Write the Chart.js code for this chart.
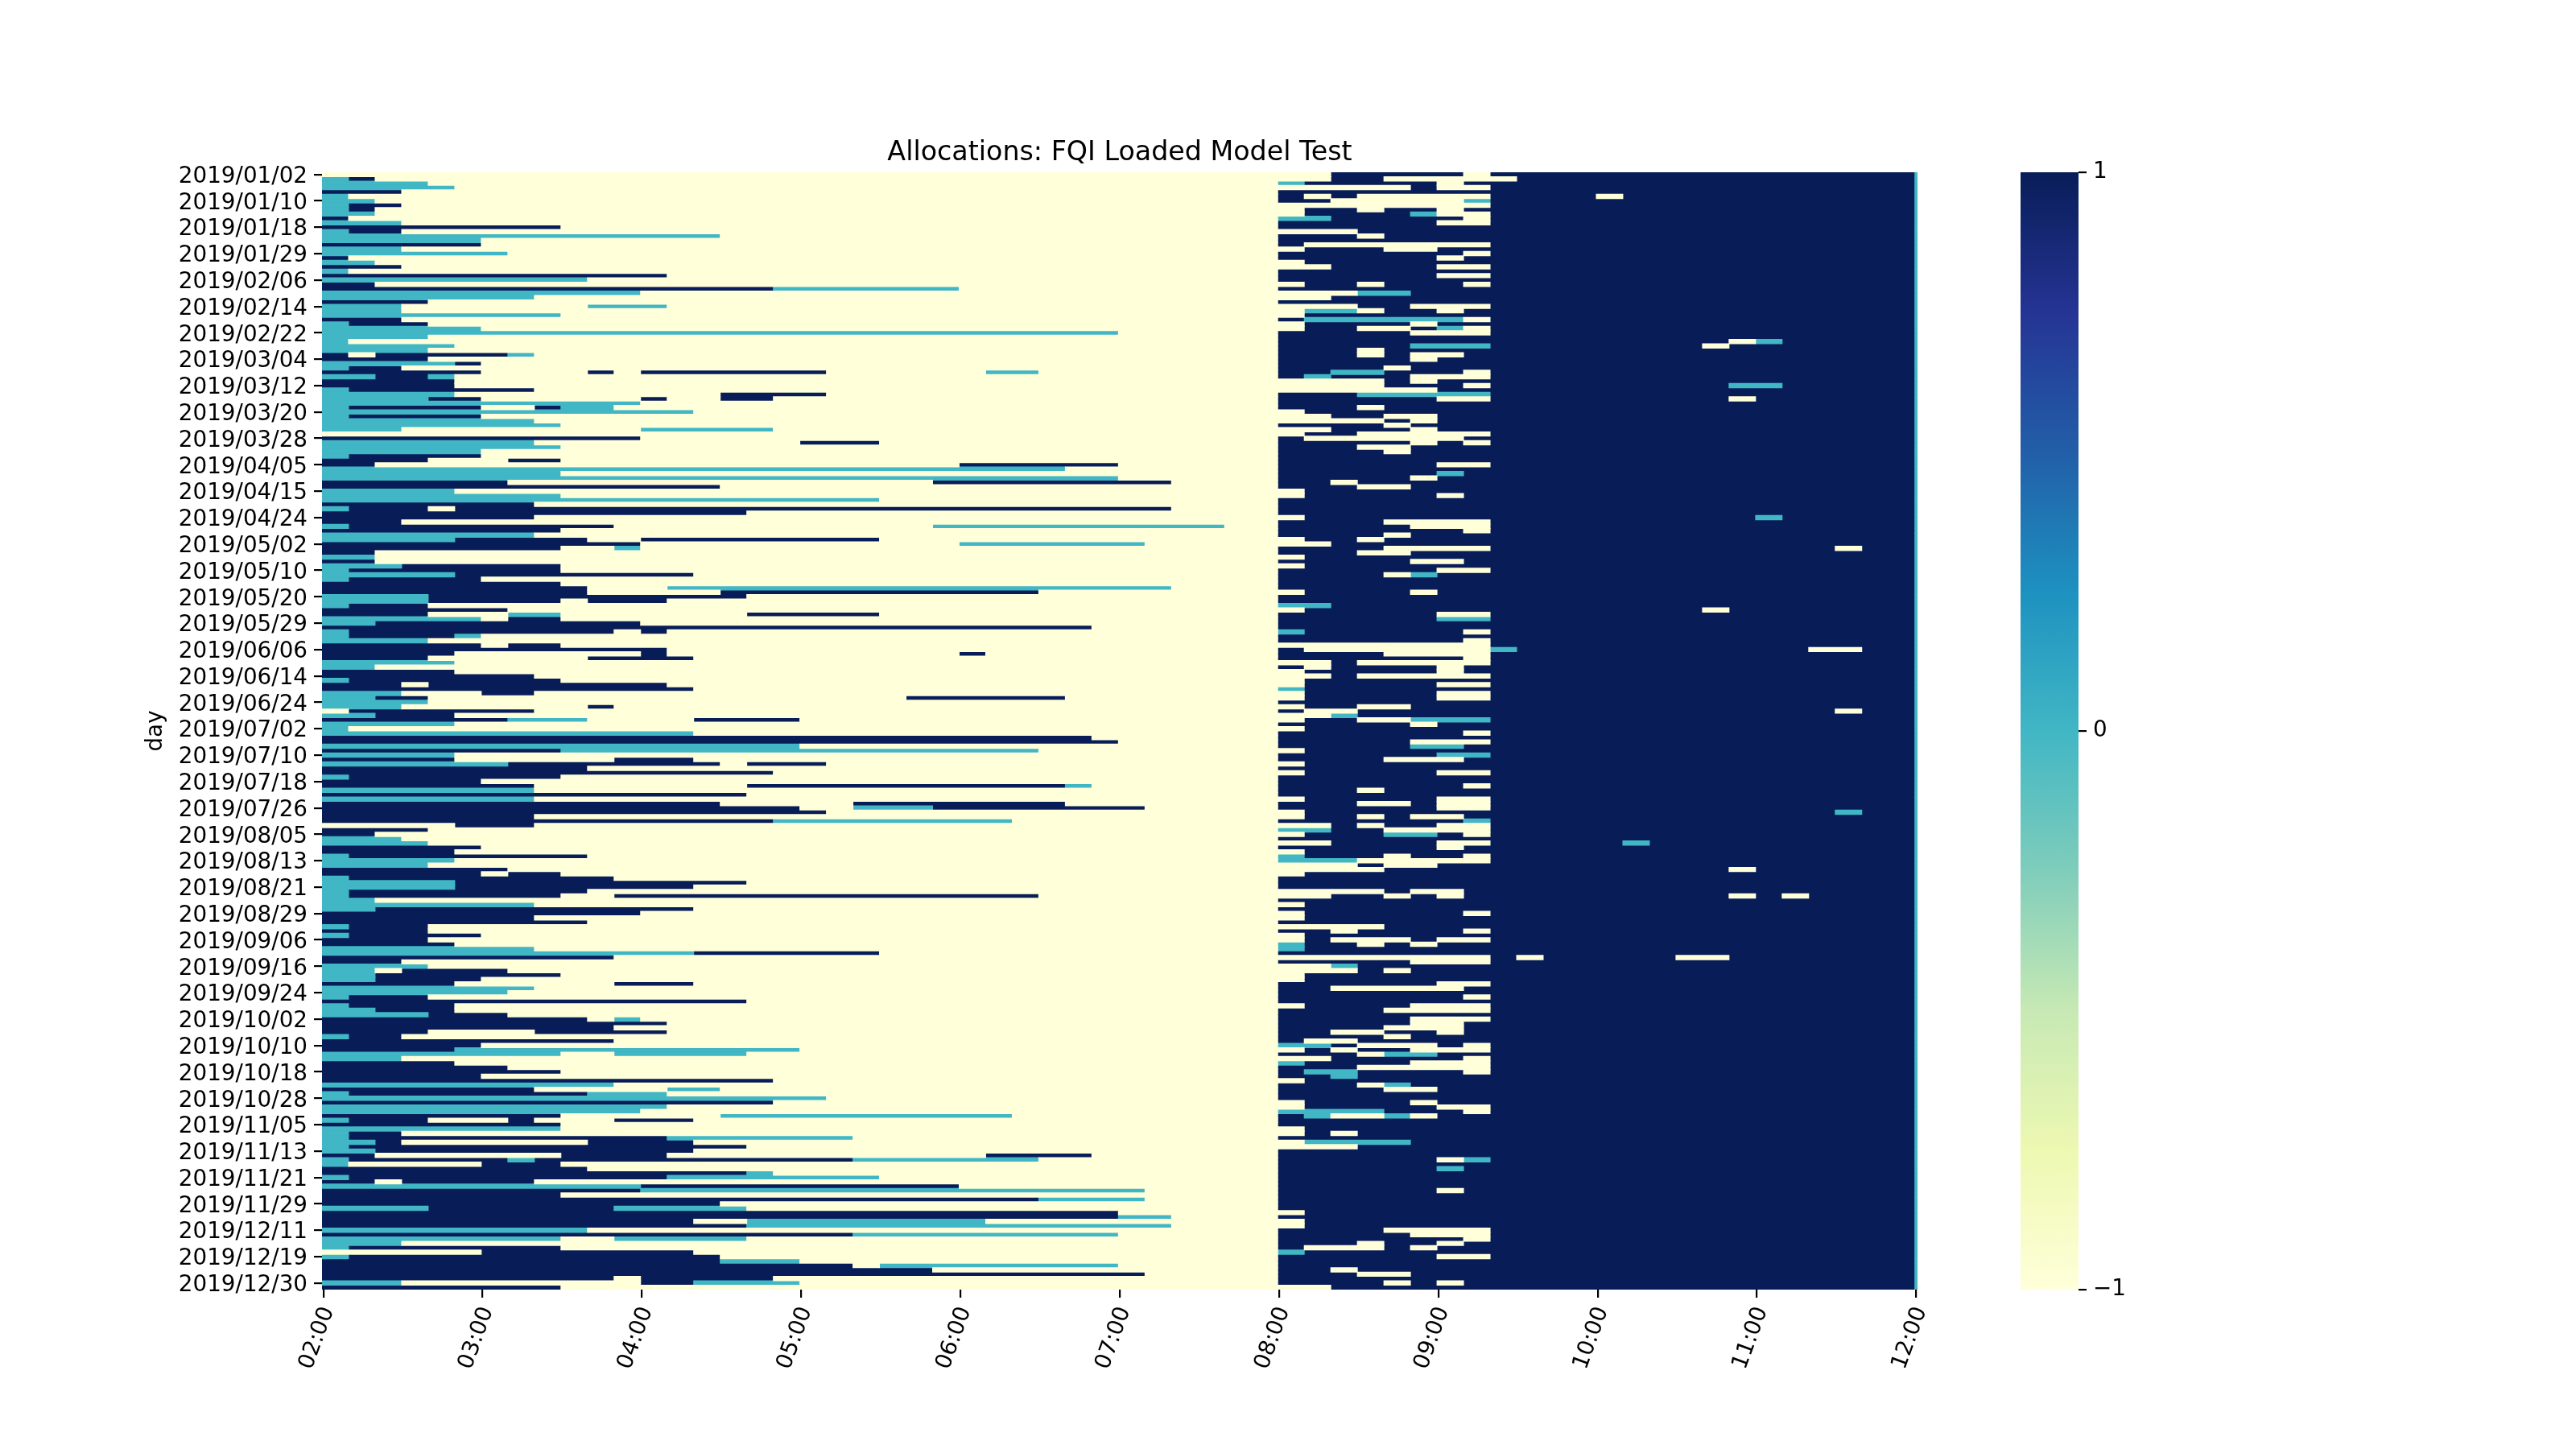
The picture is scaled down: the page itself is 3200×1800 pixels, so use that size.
<!DOCTYPE html>
<html>
<head>
<meta charset="utf-8">
<title>Allocations: FQI Loaded Model Test</title>
<script src="https://cdn.jsdelivr.net/npm/chart.js@4.4.1/dist/chart.umd.min.js"></script>
<style>
  html, body { margin: 0; padding: 0; background: #fff; }
  #page { position: relative; width: 3200px; height: 1800px; overflow: hidden; }
  #heatBox { position: absolute; left: 0; top: 0; width: 2400px; height: 1800px; }
  #barBox { position: absolute; left: 2440px; top: 0; width: 400px; height: 1800px; }
</style>
</head>
<body>
<div id="page">
  <div id="heatBox"><canvas id="heatmap"></canvas></div>
  <div id="barBox"><canvas id="colorbar"></canvas></div>
</div>
<script>
// Tick labels
const timeTicks = ['02:00', '03:00', '04:00', '05:00', '06:00', '07:00', '08:00', '09:00', '10:00', '11:00', '12:00'];
const dayTicks = [
  '2019/01/02', '2019/01/10', '2019/01/18', '2019/01/29', '2019/02/06', '2019/02/14', '2019/02/22',
  '2019/03/04', '2019/03/12', '2019/03/20', '2019/03/28', '2019/04/05', '2019/04/15', '2019/04/24',
  '2019/05/02', '2019/05/10', '2019/05/20', '2019/05/29', '2019/06/06', '2019/06/14', '2019/06/24',
  '2019/07/02', '2019/07/10', '2019/07/18', '2019/07/26', '2019/08/05', '2019/08/13', '2019/08/21',
  '2019/08/29', '2019/09/06', '2019/09/16', '2019/09/24', '2019/10/02', '2019/10/10', '2019/10/18',
  '2019/10/28', '2019/11/05', '2019/11/13', '2019/11/21', '2019/11/29', '2019/12/11', '2019/12/19',
  '2019/12/30'
];
const dayTickStep = 6;
const colorbarTicks = [-1, 0, 1];

// YlGnBu colours
const ylGnBu = ['#ffffd9', '#edf8b1', '#c7e9b4', '#7fcdbb', '#41b6c4', '#1d91c0', '#225ea8', '#253494', '#081d58'];
const cellColours = { '-1': '#ffffd9', '0': '#41b6c4', '1': '#081d58' };

// 02:00 - 07:50, 10 minute slots 0..35 (t = 0 flat, n = 1 long, rest -1)
const earlyBlocks = [
  '', 't0 n1', 't0-3', 't0-4', 'n0-2', 't0',                                   // 01/02
  't0-1', 't0 n1-2', 't0 n1', 't0-1', 'n0', 't0-2',                            // 01/10
  'n0-8', 't0 n1-2', 't0-14', 't0-5', 'n0-5', 't0-2',                          // 01/18
  't0-6', 'n0', 't0-1', 'n0-2', 't0', 'n0-12',                                 // 01/29
  't0-9', 'n0-1', 'n0-16 t17-23', 't0-11', 't0-7', 'n0-3',                     // 02/06
  't0-2 t10-12', 't0-2', 't0-8', 'n0-2', 't0 n1-3', 't0-5',                    // 02/14
  't0-29', 't0-3', 't0', 't0-4', 't0-3', 'n0 n2-6 t7',                         // 02/22
  'n0-3', 't0-4 n5', 't0 n1-2', 'n0-5 n10 n12-18 t25-26', 't0-1 n2-3 t4', 'n0-4', // 03/04
  'n0-4', 't0 n1-7', 't0-4 n15-18', 't0-3 n4-5 n12 n15-16', 't0-11', 't0 n1-5 n8 t9-10', // 03/12
  't0-13', 't0 n1-5', 't0-7', 't0-8', 't0-2 t12-16', '',                      // 03/20
  'n0-11', 't0-7 n18-20', 't0-8', 't0-5', 't0 n1-5', 'n0-3 n7-8',              // 03/28
  'n0-1 n24-29', 't0-27', 't0-8', 't0-29', 'n0-6 n23-31', 'n0-14',             // 04/05
  't0-4', 't0-8', 't0-20', 'n0-7', 't0 n1-3 n5-31', 'n0-15',                   // 04/15
  'n0-7', 'n0-2', 't0 n1-10 t23-33', 'n0-8', 't0-7', 't0-4 n5-9 n12-20',       // 04/24
  'n0-11 t24-30', 'n0-8 t11', 'n0-1', 't0-1', 'n0-1', 't0-2 n3-8',             // 05/02
  't0 n1-8', 't0-4 n5-13', 't0 n1-5', 'n0-8', 'n0-9 t13-31', 'n0-9 n15-26',    // 05/10
  't0-3 n4-15', 't0-3 n4-8 n10-12', 't0 n1-3', 'n0-6', 'n0-3 t7-8 n16-20', 't0-5 n7-8', // 05/20
  't0-1 n2-11', 'n0-28', 't0 n1-10 n12', 't0 n1-4 t5', 't0-3', 'n0-5 n7-8',    // 05/29
  'n0-12', 'n0-4 n12 n24', 'n0-3 n10-13', 't0-4', 't0-1', 'n0-4',              // 06/06
  'n0-7', 't0 n1-8', 'n0-2 n4-12', 'n0-13', 't0-2 n6-7', 't0-1 n2-3 n22-27',   // 06/14
  't0-3', 't0-2 n10', 'n1-7', 't0-1 n2-4', 'n0-6 t7-9 n14-17', 't0-4',         // 06/24
  't0', 't0-13', 'n0-28', 'n0-29', 't0-17', 'n0-8 t9-26',                      // 07/02
  't0-4', 'n0-4 n11-13', 't0-6 n7-14 n16-18', 'n0-9', 'n0-16', 't0 n1-8',      // 07/10
  'n0-5', 'n0-7 n16-27 t28', 't0-7', 'n0-15', 't0-7', 'n0-14 n20-27',          // 07/18
  'n0-17 t20-22 n23-30', 'n0-18', 'n0-7', 'n0-16 t17-25', 'n5-7', 'n0-3',      // 07/26
  'n0-1', 't0-2', 't0-3', 'n0-5', 'n0-4', 't0 n1-9',                           // 08/05
  't0-4', 't0-3', 'n0-6', 'n0-5 n7-8', 't0 n1-10', 't0-4 n5-15',               // 08/13
  't0-4 n5-13', 't0 n1-9', 't0 n1-8 n11-26', 't0-1', 't0-7', 't0-1 n2-13',     // 08/21
  'n0-11', 'n0-7', 'n0-9', 't0 n1-3', 'n0-3', 't0 n1-5',                       // 08/29
  'n0-3', 'n0-4', 't0-7', 't0-13 n14-20', 'n0-10', 'n0-2',                     // 09/06
  't0-3', 't0-1 n3-6', 't0-1 n2-8', 't0-1 n2-5', 'n0-4 n11-13', 't0-7',        // 09/16
  't0-6', 't0 n1-3', 'n0-15', 't0 n1-4', 't0-1 n2-4', 't0-3 n4-6',             // 09/24
  'n0-9 t11', 'n0-12', 'n0-10', 'n0-3 n8-12', 't0 n1-2', 'n0-10',              // 10/02
  'n0-5', 'n0-4 t5-17', 't0-8 t11-15', 't0-2', 'n0-4', 'n0-6',                 // 10/10
  'n0-8', 'n0-5', 'n0-16', 't0-10', 'n0-7 t13-14', 't0 n1-9 t10-12',           // 10/18
  't0-18', 'n0-16', 't0-12', 't0-11', 'n0-8 t15-25', 't0 n1-3 n7 n11-13',      // 10/28
  'n0-8', 't0-8', 't0 n1-2', 't0 n1-12 t13-19', 't0-1 n2 n10-13', 't0 n1-15',  // 11/05
  't0-1 n2-13', 'n0-1 n9-12 n25-28', 't0 n1-6 t7 n8-19 t20-26', 't0 n6-8', 'n0-9', 'n0-15 t16', // 11/13
  't0 n1-12 t13-20', 'n0-1 n3-7', 't0-11 n12-23', 'n0-11 t12-30', 'n0-8', 'n0-26 t27-30', // 11/21
  'n0-14', 't0-3 n4-10 t11-15', 'n0-29', 'n0-29 t30-31', 'n0-13 t16-24', 'n0-15 t16-31', // 11/29
  't0-9', 'n0-19 t20-29', 't0-8 t11-15', 't0-2', 't0 n1-8', 'n6-13',           // 12/11
  't0 n1-14', 'n0-14 t15-17', 'n0-19 t21-29', 'n0-22', 'n0-30', 'n0-10 n12-16', // 12/19
  't0-2 n12-13 t14-17', 'n0-8'                                                 // 12/30
];

// 08:00 - 09:10, slots 36..43 one character each
const openBlocks = [
  '..nnnnn.', '..nn....', 'tnnnnn.n', '.....n..', 'nnnnnnnn', 'n.n.....',
  'nn.....t', '........', '.nn.nn.n', '.nnnnt..', 'ttnnnnn.', 'nnnnnn..',
  'nnnnnnnn', '...nnnnn', 'nnn.nnnn', 'nnnnnnnn', 'n.......', '.nnn..nn',
  'nnnnnnn.', 'nnnnnn.n', '.nnnnnnn', '..nnnn..', 'nnnnnnnn', 'nnnnnn..',
  'nnnnnnnn', '.nn.nnn.', 'nnnnnnnn', '...ttnnn', '..nnnnnn', 'nnnnnnnn',
  '...nn...', '.tt.nn.n', '.nnnnnnn', 'ntttttt.', '.nnnn.nn', '.nn..nt.',
  'nnnnn...', 'nnnnnnnn', 'nnnnnnnn', 'nnnnnttt', 'nnn.nnnn', 'nnn.n..n',
  'nnnnn.nn', 'nnnnnnnn', 'nnnn.nnn', 'nnttnnn.', 'ntnnn...', '....n.nn',
  '....nnn.', '......nn', 'nnnttttt', 'nnnnnn..', 'nnnnnnnn', 'nnn.nnnn',
  '.nnnnnnn', '..nn..nn', '....n.nn', 'nnnn.nnn', '..nnn.nn', '.nn.....',
  'n......n', 'nnnnn.n.', 'nnn..nnn', 'nnnn.nnn', 'nnnnnnnn', 'nnnnnnnn',
  'nnnnnn..', 'nnnnnnnn', 'nnnnnntn', 'nnnnn.nn', 'nn.nnnnn', 'nnn..nnn',
  '.nnnnnnn', '.nnnnn.n', 'nnnnnnnn', 'nnnnnnnn', 'nnnnnnnn', 'nnnnnnnn',
  '.nnnnnnn', 'nnnn....', 'nnnnn...', 'nnnnnnn.', 'nnnn.nnn', '.nn.nnnn',
  '..nnnnnn', 'nnnn....', 'nnn..nnn', '.nnnnnnn', 'nnnnn..n', '.nnnnnnn',
  'nnnnnn..', 'nnnn.tnn', 'nnnnnnnn', 'nnnnnnnn', 'nnnnnnnn', '.nnnn.nn',
  'nnnnnnnn', 'nnnnnnnn', 'ttnnnnnn', '.nnnnnnn', 'nnnnnn..', 'nnnnnntt',
  'nnnnnnnn', 'nnnnnnnn', 'tnnnnnn.', 'nnnnnnnn', 'nnnnnnn.', '........',
  'n.......', 'nnnn....', 'nnnnnnn.', '..n.....', 'n.nnnn.n', '.nnnnn.n',
  '..n.....', '.nnnnnnn', '.nnnnn..', 'tnnnnnnn', '.nnnnn..', '.nnnnn..',
  'nnnnnnnn', '.nn..nnn', 'n..nnnnn', '..tnnnnn', '.nn..ttt', 'nnnnn.nn',
  '.nnnnnnn', 'nnnnnnn.', 'nnnnnnnn', 'nnnnn...', 'nnnnnttn', '.nnnnnnn',
  'nnnnnntt', 'nnnn...n', '.nnnnnnn', 'nnnnnnnn', '.nnnnn..', 'nnnnnnnn',
  'nnnnnnnn', 'nnnnnnn.', 'nnn.nnnn', 'nnnnnnnn', '.nnnnn..', 'nnn..n..',
  'nnnnnn..', '.nnnnnnn', '.nn.n..n', 'nnnnnnnt', '..n.nn..', 'ttnn....',
  '.nnnttn.', 'nnnnnnnn', '..nnnn..', 'nnnnnn.n', '.nnnnnnn', 'tnnn.nn.',
  'ttt.....', '...n..nn', '....nnnn', '.nnnnnnn', 'nnnnnnnn', 'nnnnnnnn',
  'nnnnnnnn', '....n..n', '..nn.n.n', 'nnnnnnnn', '.nnnnnnn', 'nnnnnnnn',
  '.nnnnnn.', '.nnnnnnn', 'nnnnnnnn', '....nnnn', 'nn.nnnn.', '.nnnnnnn',
  '.n...n..', 'tnn.n.nn', 'tnnnnnnn', 'nnnnnnnn', '........', 'nnnnn...',
  '..tnnnnn', '...n.nnn', '.nnnnnnn', '.nnnnnnn', 'nnnnnn..', 'nn.....n',
  'nnnnnnnn', 'nnnnnnn.', 'nnnnnnnn', '.nnnn...', 'nnnn....', 'nnnnnnnn',
  'nnnnn...', 'nnnnn..n', 'nnnn...n', 'nn..nn.n', 'nnnn.nnn', 'n..nnnnn',
  'ttn...n.', '.n.nn...', 'nnn.ttnn', '..nnnnn.', 'tnnnn...', 'nnn.....',
  'nttnnnn.', 'nntnnnnn', '.nnnnnnn', 'nnn.tnnn', 'nnnn..nn', 'nnnnnnnn',
  'nnnnnnnn', '.nnnn.nn', '.nnnnn..', 'ttttnnn.', 'nt..t.nn', 'nnnnnnnn',
  'nnnnnnnn', '.nnnnnnn', '.n.nnnnn', 'nnnnnnnn', '.ttttnnn', '...nnnnn',
  'nnnnnnnn', 'nnnnnnnn', 'nnnnnn.t', 'nnnnnnnn', 'nnnnnntn', 'nnnnnnnn',
  'nnnnnnnn', 'nnnnnnnn', 'nnnnnnnn', 'nnnnnn.n', 'nnnnnnnn', 'nnnnnnnn',
  'nnnnnnnn', 'nnnnnnnn', '.nnnnnnn', 'nnnnnnnn', '.nnnnnnn', '.nnnnnnn',
  'nnnn....', 'nnnnn...', 'nnnnnnn.', 'nnn.nn.n', 'n...n.nn', 'tnnnnnnn',
  'nnnnnn..', 'nnnnnnnn', 'nnnnnnnn', 'nn.nnnnn', 'nnn..nnn', 'nnnnnnnn',
  'nnnn.n.n', '..nnnnnn'
];

// 09:20 - 11:50 is long (1) except these [day row, slot, value]
const lateExceptions = [
  [1, 44, -1], [5, 48, -1], [38, 53, -1], [38, 54, 0], [39, 52, -1], [48, 53, 0], [48, 54, 0],
  [51, 53, -1], [78, 54, 0], [85, 57, -1], [99, 52, -1], [108, 44, 0], [108, 56, -1], [108, 57, -1],
  [122, 57, -1], [145, 57, 0], [152, 49, 0], [158, 53, -1], [164, 53, -1], [164, 55, -1],
  [178, 45, -1], [178, 51, -1], [178, 52, -1]
];

// the 12:00 minute is flat on every day
const closeValue = 0;

const SLOT = 10;
const dayEnd = (timeTicks.length - 1) * 60;
const slotCount = dayEnd / SLOT;
const codes = { '.': -1, t: 0, n: 1 };

function dayCells(r) {
  const cells = [];
  for (let c = 0; c < slotCount; c++) cells.push(c < 36 ? -1 : 1);
  earlyBlocks[r].split(' ').filter(Boolean).forEach(tok => {
    const parts = tok.slice(1).split('-').map(Number);
    const last = parts.length > 1 ? parts[1] : parts[0];
    for (let c = parts[0]; c <= last; c++) cells[c] = codes[tok[0]];
  });
  for (let k = 0; k < openBlocks[r].length; k++) cells[36 + k] = codes[openBlocks[r][k]];
  lateExceptions.filter(e => e[0] === r).forEach(e => { cells[e[1]] = e[2]; });
  return cells;
}

// Runs of equal value become floating bars
const series = { '-1': [], '0': [], '1': [] };
earlyBlocks.forEach((_, r) => {
  const cells = dayCells(r);
  let start = 0;
  for (let c = 1; c <= cells.length; c++) {
    if (c === cells.length || cells[c] !== cells[start]) {
      series[cells[start]].push({ x: [start * SLOT, c * SLOT], y: r + 0.5 });
      start = c;
    }
  }
  series[closeValue].push({ x: [dayEnd, dayEnd + 1], y: r + 0.5 });
});

Chart.defaults.font.family = "'DejaVu Sans', sans-serif";
Chart.defaults.color = '#000';
const tickFont = { size: 27.8 };
const tickGrid = { drawOnChartArea: false, offset: false, color: '#000', tickLength: 10, lineWidth: 2.2 };

// Heatmap
new Chart(document.getElementById('heatmap'), {
  type: 'bar',
  data: {
    datasets: ['-1', '0', '1'].map(v => ({
      label: v,
      data: series[v],
      backgroundColor: cellColours[v]
    }))
  },
  options: {
    animation: false,
    responsive: true,
    maintainAspectRatio: false,
    indexAxis: 'y',
    layout: { padding: { left: 0, right: 18, top: 0, bottom: 0 } },
    datasets: {
      bar: { grouped: false, barPercentage: 1, categoryPercentage: 1, borderWidth: 0, inflateAmount: 0.5 }
    },
    plugins: {
      legend: { display: false },
      tooltip: { enabled: false },
      title: {
        display: true,
        text: 'Allocations: FQI Loaded Model Test',
        fullSize: false,
        color: '#000',
        font: { size: 33.3, weight: 'normal', lineHeight: 1.2 },
        padding: { top: 170, bottom: 4 }
      }
    },
    scales: {
      x: {
        type: 'linear',
        offset: false,
        min: 0,
        max: dayEnd + 1,
        afterBuildTicks: s => { s.ticks = timeTicks.map((t, i) => ({ value: i * 60 + 0.5 })); },
        afterFit: s => { s.height = 198; s.paddingLeft = 0; s.paddingRight = 0; },
        ticks: {
          autoSkip: false, minRotation: 70, maxRotation: 70, padding: 7, labelOffset: 6, font: tickFont,
          callback: (v, i) => timeTicks[i]
        },
        grid: tickGrid,
        border: { display: false }
      },
      y: {
        type: 'linear',
        offset: false,
        min: 0,
        max: earlyBlocks.length,
        reverse: true,
        afterBuildTicks: s => { s.ticks = dayTicks.map((d, k) => ({ value: k * dayTickStep + 0.5 })); },
        afterFit: s => { s.width = 400; s.paddingTop = 0; s.paddingBottom = 0; },
        ticks: { autoSkip: false, padding: 8, labelOffset: 3, font: tickFont, callback: (v, i) => dayTicks[i] },
        grid: tickGrid,
        border: { display: false },
        title: { display: true, text: 'day', font: { size: 27.8, lineHeight: 1.2 }, padding: { top: 177, bottom: 0 } }
      }
    }
  }
});

// Colorbar
function colorbarFill(chart) {
  const area = chart.chartArea;
  if (!area) return ylGnBu[4];
  const g = chart.ctx.createLinearGradient(0, area.bottom, 0, area.top);
  ylGnBu.forEach((c, i) => g.addColorStop(i / (ylGnBu.length - 1), c));
  return g;
}

new Chart(document.getElementById('colorbar'), {
  type: 'bar',
  data: {
    labels: [''],
    datasets: [{
      data: [[colorbarTicks[0], colorbarTicks[colorbarTicks.length - 1]]],
      backgroundColor: ctx => colorbarFill(ctx.chart),
      borderWidth: 0,
      barPercentage: 1,
      categoryPercentage: 1
    }]
  },
  options: {
    animation: false,
    responsive: true,
    maintainAspectRatio: false,
    layout: { padding: { left: 70, right: 0, top: 214, bottom: 198 } },
    plugins: { legend: { display: false }, tooltip: { enabled: false } },
    scales: {
      x: { display: false },
      y: {
        position: 'right',
        min: colorbarTicks[0],
        max: colorbarTicks[colorbarTicks.length - 1],
        afterBuildTicks: s => { s.ticks = colorbarTicks.map(v => ({ value: v })); },
        afterFit: s => { s.width = 258; s.paddingTop = 0; s.paddingBottom = 0; },
        ticks: { padding: 8, font: tickFont, callback: v => (v < 0 ? '\u2212' + Math.abs(v) : String(v)) },
        grid: tickGrid,
        border: { display: false }
      }
    }
  }
});
</script>
</body>
</html>
